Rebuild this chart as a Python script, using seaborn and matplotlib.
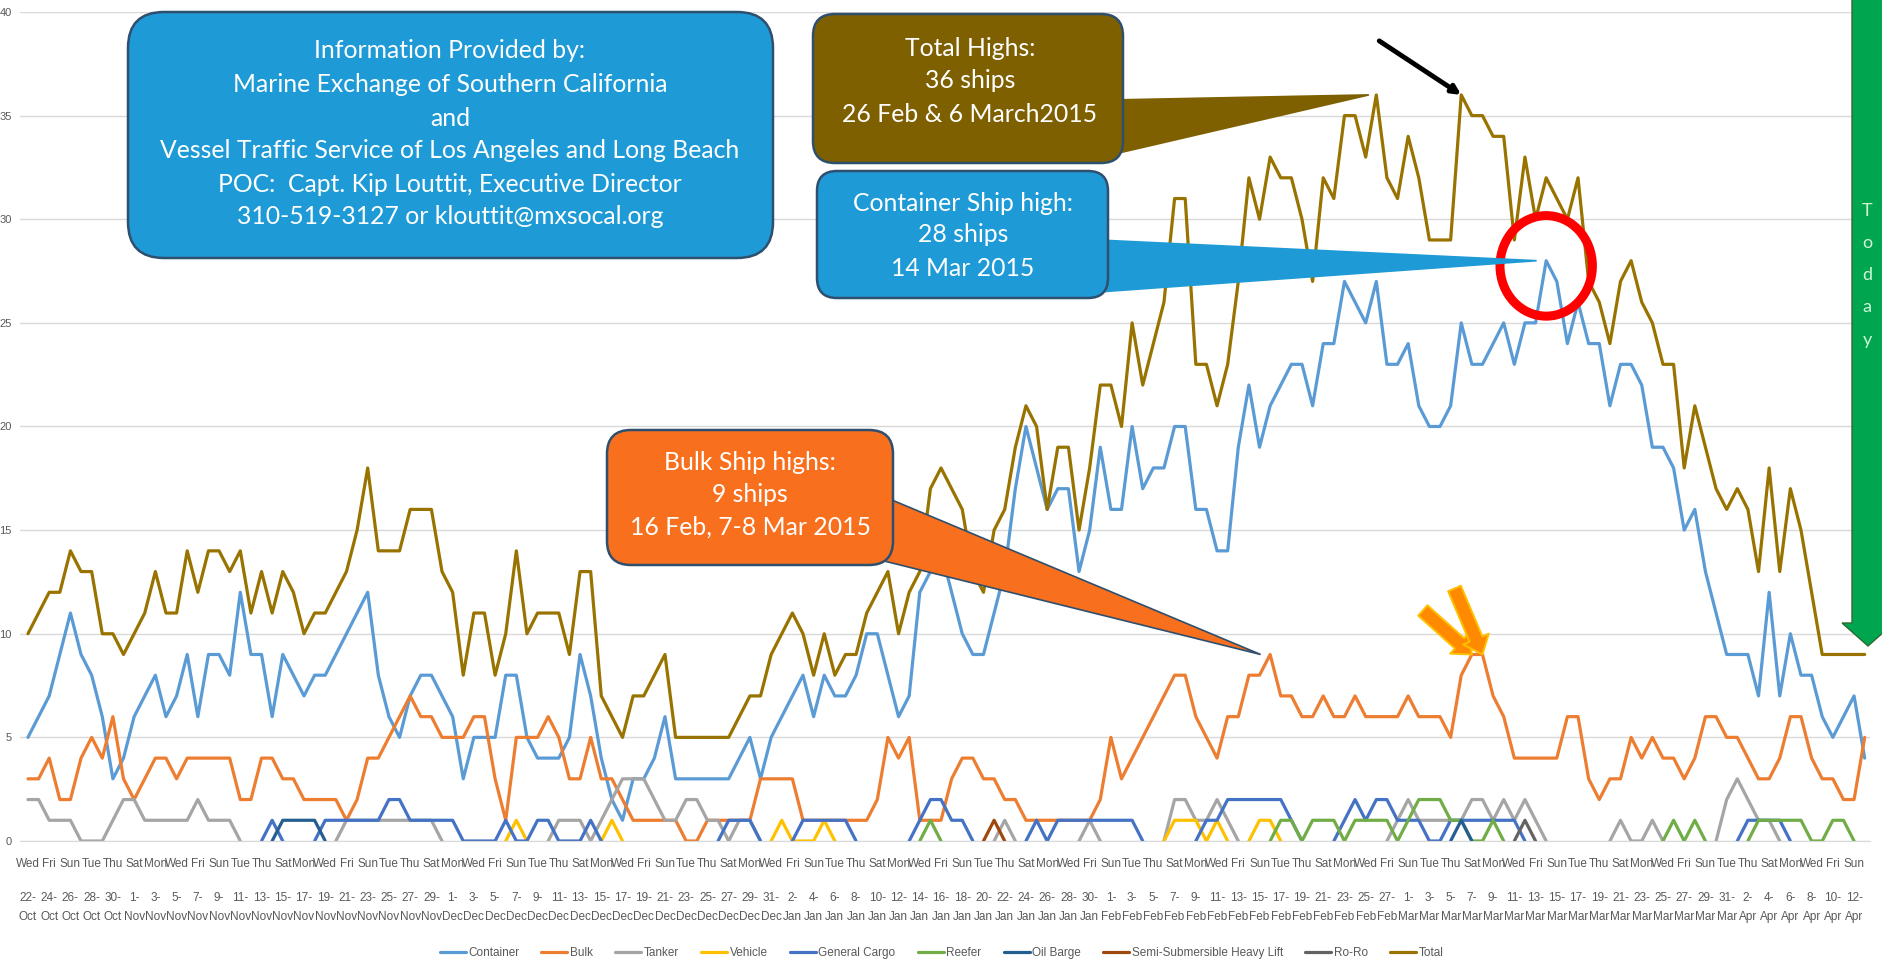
import numpy as np
import pandas as pd
import matplotlib
matplotlib.use("Agg")
import matplotlib.pyplot as plt
import seaborn as sns
from matplotlib.patches import FancyBboxPatch, Polygon, Ellipse
from matplotlib.lines import Line2D
from matplotlib.transforms import IdentityTransform

W, H, DPI = 1883, 980, 100

# ---------------- data: ships at anchor / loitering, one value per day ----------------
start_date = "2014-10-22"
n_days = 174

series_names = ["Container", "Bulk", "Tanker", "Vehicle", "General Cargo", "Reefer",
                "Oil Barge", "Semi-Submersible Heavy Lift", "Ro-Ro", "Total"]
series_colors = ["#5B9BD5", "#ED7D31", "#A5A5A5", "#FFC000", "#4472C4", "#70AD47",
                 "#255E91", "#9E480E", "#636363", "#997300"]

total = [
    10, 11, 12, 12, 14, 13, 13, 10, 10, 9,
    10, 11, 13, 11, 11, 14, 12, 14, 14, 13,
    14, 11, 13, 11, 13, 12, 10, 11, 11, 12,
    13, 15, 18, 14, 14, 14, 16, 16, 16, 13,
    12, 8, 11, 11, 8, 10, 14, 10, 11, 11,
    11, 9, 13, 13, 7, 6, 5, 7, 7, 8,
    9, 5, 5, 5, 5, 5, 5, 6, 7, 7,
    9, 10, 11, 10, 8, 10, 8, 9, 9, 11,
    12, 13, 10, 12, 13, 17, 18, 17, 16, 13,
    12, 15, 16, 19, 21, 20, 16, 19, 19, 15,
    18, 22, 22, 20, 25, 22, 24, 26, 31, 31,
    23, 23, 21, 23, 27, 32, 30, 33, 32, 32,
    30, 27, 32, 31, 35, 35, 33, 36, 32, 31,
    34, 32, 29, 29, 29, 36, 35, 35, 34, 34,
    29, 33, 30, 32, 31, 30, 32, 27, 26, 24,
    27, 28, 26, 25, 23, 23, 18, 21, 19, 17,
    16, 17, 16, 13, 18, 13, 17, 15, 12, 9,
    9, 9, 9, 9]

container = [
    5, 6, 7, 9, 11, 9, 8, 6, 3, 4,
    6, 7, 8, 6, 7, 9, 6, 9, 9, 8,
    12, 9, 9, 6, 9, 8, 7, 8, 8, 9,
    10, 11, 12, 8, 6, 5, 7, 8, 8, 7,
    6, 3, 5, 5, 5, 8, 8, 5, 4, 4,
    4, 5, 9, 7, 4, 2, 1, 3, 3, 4,
    6, 3, 3, 3, 3, 3, 3, 4, 5, 3,
    5, 6, 7, 8, 6, 8, 7, 7, 8, 10,
    10, 8, 6, 7, 12, 13, 14, 12, 10, 9,
    9, 11, 13, 17, 20, 18, 16, 17, 17, 13,
    15, 19, 16, 16, 20, 17, 18, 18, 20, 20,
    16, 16, 14, 14, 19, 22, 19, 21, 22, 23,
    23, 21, 24, 24, 27, 26, 25, 27, 23, 23,
    24, 21, 20, 20, 21, 25, 23, 23, 24, 25,
    23, 25, 25, 28, 27, 24, 26, 24, 24, 21,
    23, 23, 22, 19, 19, 18, 15, 16, 13, 11,
    9, 9, 9, 7, 12, 7, 10, 8, 8, 6,
    5, 6, 7, 4]

bulk = [
    3, 3, 4, 2, 2, 4, 5, 4, 6, 3,
    2, 3, 4, 4, 3, 4, 4, 4, 4, 4,
    2, 2, 4, 4, 3, 3, 2, 2, 2, 2,
    1, 2, 4, 4, 5, 6, 7, 6, 6, 5,
    5, 5, 6, 6, 3, 1, 5, 5, 5, 6,
    5, 3, 3, 5, 3, 3, 2, 1, 1, 1,
    1, 1, 0, 0, 1, 1, 1, 1, 1, 3,
    3, 3, 3, 1, 1, 1, 1, 1, 1, 1,
    2, 5, 4, 5, 1, 1, 1, 3, 4, 4,
    3, 3, 2, 2, 1, 1, 1, 1, 1, 1,
    1, 2, 5, 3, 4, 5, 6, 7, 8, 8,
    6, 5, 4, 6, 6, 8, 8, 9, 7, 7,
    6, 6, 7, 6, 6, 7, 6, 6, 6, 6,
    7, 6, 6, 6, 5, 8, 9, 9, 7, 6,
    4, 4, 4, 4, 4, 6, 6, 3, 2, 3,
    3, 5, 4, 5, 4, 4, 3, 4, 6, 6,
    5, 5, 4, 3, 3, 4, 6, 6, 4, 3,
    3, 2, 2, 5]

# Sparse series: (first day index, consecutive daily counts); days outside runs are blank
tanker_runs = [
    (0, [2, 2, 1, 1, 1, 0, 0, 0, 1, 2, 2, 1, 1, 1, 1, 1, 2, 1, 1, 1, 0]),
    (29, [0, 1, 1, 1, 1, 1, 1, 1, 1, 1, 0]),
    (49, [0, 1, 1, 1, 0, 1, 2, 3, 3, 3, 2, 1, 1, 2, 2, 1, 1, 0, 1, 1, 0]),
    (91, [0, 1, 0]),
    (99, [0, 1, 0]),
    (107, [0, 2, 2, 1, 1, 2, 1, 0]),
    (128, [0, 1, 2, 1, 1, 1, 1, 1, 2, 2, 1, 2, 1, 2, 1, 0]),
    (149, [0, 1, 0, 0, 1, 0]),
    (159, [0, 2, 3, 2, 1, 1, 0]),
]
vehicle_runs = [
    (45, [0, 1, 0]),
    (54, [0, 1, 0]),
    (70, [0, 1, 0, 0, 0, 1, 0]),
    (107, [0, 1, 1, 1, 0, 1, 0]),
    (115, [0, 1, 1, 0]),
]
general_cargo_runs = [
    (22, [0, 1, 0]),
    (27, [0, 1, 1, 1, 1, 1, 1, 2, 2, 1, 1, 1, 1, 1, 0, 0, 0, 0, 1, 0, 0, 1, 1, 0, 0, 0, 1, 0]),
    (65, [0, 1, 1, 1, 0]),
    (72, [0, 1, 1, 1, 1, 1, 0]),
    (83, [0, 1, 2, 2, 1, 1, 0]),
    (94, [0, 1, 0, 1, 1, 1, 1, 1, 1, 1, 1, 0]),
    (110, [0, 1, 1, 2, 2, 2, 2, 2, 2, 1, 0]),
    (123, [0, 1, 2, 1, 2, 2, 1, 1, 1, 0, 0, 1, 1, 1, 1, 1, 1, 1, 0]),
    (161, [0, 1, 1, 1, 1, 0]),
]
reefer_runs = [
    (84, [0, 1, 0]),
    (117, [0, 1, 1, 0, 1, 1, 1, 0, 1, 1, 1, 1, 0, 1, 2, 2, 2, 1, 1, 0, 0, 1, 0]),
    (154, [0, 1, 0, 1, 0]),
    (162, [0, 1, 1, 1, 1, 1, 0, 0, 1, 1, 0]),
]
oil_barge_runs = [
    (23, [0, 1, 1, 1, 1, 0]),
    (134, [0, 1, 0]),
]
semi_sub_runs = [(90, [0, 1, 0])]
ro_ro_runs = [(140, [0, 1, 0])]

# ---------------- tidy table for seaborn ----------------
dates = pd.date_range(start_date, periods=n_days, freq="D")
runs_by_series = {
    "Container": [(0, container)],
    "Bulk": [(0, bulk)],
    "Tanker": tanker_runs,
    "Vehicle": vehicle_runs,
    "General Cargo": general_cargo_runs,
    "Reefer": reefer_runs,
    "Oil Barge": oil_barge_runs,
    "Semi-Submersible Heavy Lift": semi_sub_runs,
    "Ro-Ro": ro_ro_runs,
    "Total": [(0, total)],
}
records = []
seg = 0
for name in series_names:
    for first, vals in runs_by_series[name]:
        for k, v in enumerate(vals):
            records.append({"day": first + k, "ships": v, "type": name, "seg": seg})
        seg += 1
df = pd.DataFrame(records)


def day_of(s):
    return (pd.Timestamp(s) - pd.Timestamp(start_date)).days


# ---------------- figure ----------------
sns.set_style("white")
plt.rcParams["font.family"] = ["Liberation Sans Narrow", "Liberation Sans", "DejaVu Sans"]

fig = plt.figure(figsize=(W / DPI, H / DPI), dpi=DPI)
fig.patch.set_facecolor("white")
ax = fig.add_axes([20 / W, 1 - 841 / H, 1850 / W, 829 / H])

sns.lineplot(data=df, x="day", y="ships", hue="type", units="seg", estimator=None,
             hue_order=series_names, palette=dict(zip(series_names, series_colors)),
             linewidth=2.3, legend=False, sort=False, ax=ax)

ax.set_xlim(-0.75, 173.45)
ax.set_ylim(0, 40)
ax.set_xlabel("")
ax.set_ylabel("")
ax.set_yticks(np.arange(0, 41, 5))
ax.yaxis.grid(True, color="#D9D9D9", lw=1)
ax.set_axisbelow(True)
for s in ["top", "right", "left"]:
    ax.spines[s].set_visible(False)
ax.spines["bottom"].set_color("#D9D9D9")
ax.tick_params(axis="y", length=0, pad=6, labelsize=8, labelcolor="#595959")

tick_days = np.arange(0, n_days, 2)
weekday_labels = [dates[d].strftime("%a") for d in tick_days]
date_labels = [f"{dates[d].day}-\n{dates[d].strftime('%b')}" for d in tick_days]
ax.set_xticks(tick_days)
ax.set_xticklabels(weekday_labels)
ax.tick_params(axis="x", which="major", length=0, pad=12, labelsize=8.5, labelcolor="#595959")
ax.set_xticks(np.arange(-0.5, n_days, 1), minor=True)
ax.tick_params(axis="x", which="minor", length=62, width=0.8, color="#EAEAEA")

sec = ax.secondary_xaxis("bottom")
sec.set_xticks(tick_days)
sec.set_xticklabels(date_labels)
sec.tick_params(length=0, pad=37, labelsize=8.5, labelcolor="#595959")
for lbl in sec.get_xticklabels():
    lbl.set_linespacing(1.7)
sec.spines["bottom"].set_visible(False)

# legend
handles = [Line2D([], [], color=c, lw=2.3) for c in series_colors]
fig.legend(handles, series_names, loc="center", bbox_to_anchor=(0.5, 1 - 953 / H),
           ncol=10, frameon=False, fontsize=8.5, handlelength=2.2, handletextpad=0.2,
           columnspacing=1.9, labelcolor="#595959")

# ---------------- call-outs (pixel layout, tips anchored on data points) ----------------
ID = IdentityTransform()


def dpx(x, y):
    """figure pixel from top-left origin -> display coords"""
    return (x, H - y)


def data_px(day, value):
    return tuple(ax.transData.transform((day, value)))


def rounded_box(x0, y0, x1, y1, fc, ec, r):
    p = FancyBboxPatch(dpx(x0, y1), x1 - x0, y1 - y0,
                       boxstyle=f"round,pad=0,rounding_size={r}",
                       transform=ID, fc=fc, ec=ec, lw=1.8, zorder=6)
    fig.add_artist(p)


def wedge(base_a, base_b, tip, fc, ec=None):
    p = Polygon([dpx(*base_a), tip, dpx(*base_b)], closed=True, transform=ID,
                fc=fc, ec=ec if ec else fc, lw=1.2, zorder=5)
    fig.add_artist(p)


def box_lines(cx, ys, lines, size=17.8):
    for y, t in zip(ys, lines):
        fig.text(cx / W, 1 - y / H, t, ha="center", va="center", color="white",
                 fontsize=size, family=["Lato", "DejaVu Sans"], zorder=7)


blue_fill, brown_fill, orange_fill = "#1E9AD6", "#7F6000", "#F8701E"
edge_dark = "#2F4F6F"

# information box
rounded_box(128, 12, 773, 258, blue_fill, edge_dark, 36)
box_lines(450, [51, 85, 118, 151, 184, 217],
          ["Information Provided by:",
           "Marine Exchange of Southern California",
           "and",
           "Vessel Traffic Service of Los Angeles and Long Beach",
           "POC:  Capt. Kip Louttit, Executive Director",
           "310-519-3127 or klouttit@mxsocal.org"])

# total highs
d_tot = day_of("2015-02-26")
wedge((1110, 100), (1110, 155), data_px(d_tot - 0.7, total[d_tot]), brown_fill)
rounded_box(813, 14, 1123, 163, brown_fill, edge_dark, 22)
box_lines(970, [49, 81, 114], ["Total Highs:", "36 ships", "26 Feb & 6 March2015"])

# container high
d_con = day_of("2015-03-14")
wedge((1098, 240), (1098, 292), data_px(d_con - 0.9, container[d_con]), blue_fill)
rounded_box(817, 171, 1108, 298, blue_fill, edge_dark, 20)
box_lines(963, [203, 235, 268], ["Container Ship high:", "28 ships", "14 Mar 2015"])

# bulk highs
d_blk = day_of("2015-02-16")
wedge((880, 495), (880, 560), data_px(d_blk - 0.9, bulk[d_blk]), orange_fill, edge_dark)
rounded_box(607, 430, 893, 565, orange_fill, edge_dark, 24)
box_lines(750, [462, 494, 527], ["Bulk Ship highs:", "9 ships", "16 Feb, 7-8 Mar 2015"])

# red ring round the container peak
ax.add_patch(Ellipse((d_con, container[d_con] - 0.25), width=8.7, height=4.85, fill=False,
                     ec="#FF0000", lw=6.5, zorder=10, clip_on=False))

# black arrow on the second total peak
d_tot2 = day_of("2015-03-06")
ax.annotate("", xy=(d_tot2, total[d_tot2]), xytext=(-82, 54), textcoords="offset pixels",
            arrowprops=dict(arrowstyle="-|>,head_length=0.5,head_width=0.25", color="black",
                            lw=3.5, shrinkA=0, shrinkB=0), zorder=10)

# orange arrows on the March bulk peaks
for dstr, off in [("2015-03-07", (-49, 44)), ("2015-03-08", (-28, 66))]:
    d = day_of(dstr)
    ax.annotate("", xy=(d, bulk[d]), xytext=off, textcoords="offset pixels",
                arrowprops=dict(arrowstyle="simple,head_length=0.6,head_width=1.0,tail_width=0.5",
                                fc="#FF8A00", ec="#FFC000", lw=1.4, shrinkA=0, shrinkB=0,
                                mutation_scale=20), zorder=10)

# "Today" marker
today = Polygon([dpx(1852, -5), dpx(1884, -5), dpx(1884, 623), dpx(1894, 623),
                 dpx(1868, 646), dpx(1842, 623), dpx(1852, 623)], closed=True,
                transform=ID, fc="#00A550", ec="#2D6B2F", lw=1, zorder=8)
fig.add_artist(today)
fig.text(1867 / W, 1 - 275 / H, "T\no\nd\na\ny", ha="center", va="center", color="#D4F5D4",
         fontsize=13, linespacing=2.25, family=["Lato", "DejaVu Sans"], zorder=9)

fig.savefig("out.png", dpi=DPI, facecolor="white")
